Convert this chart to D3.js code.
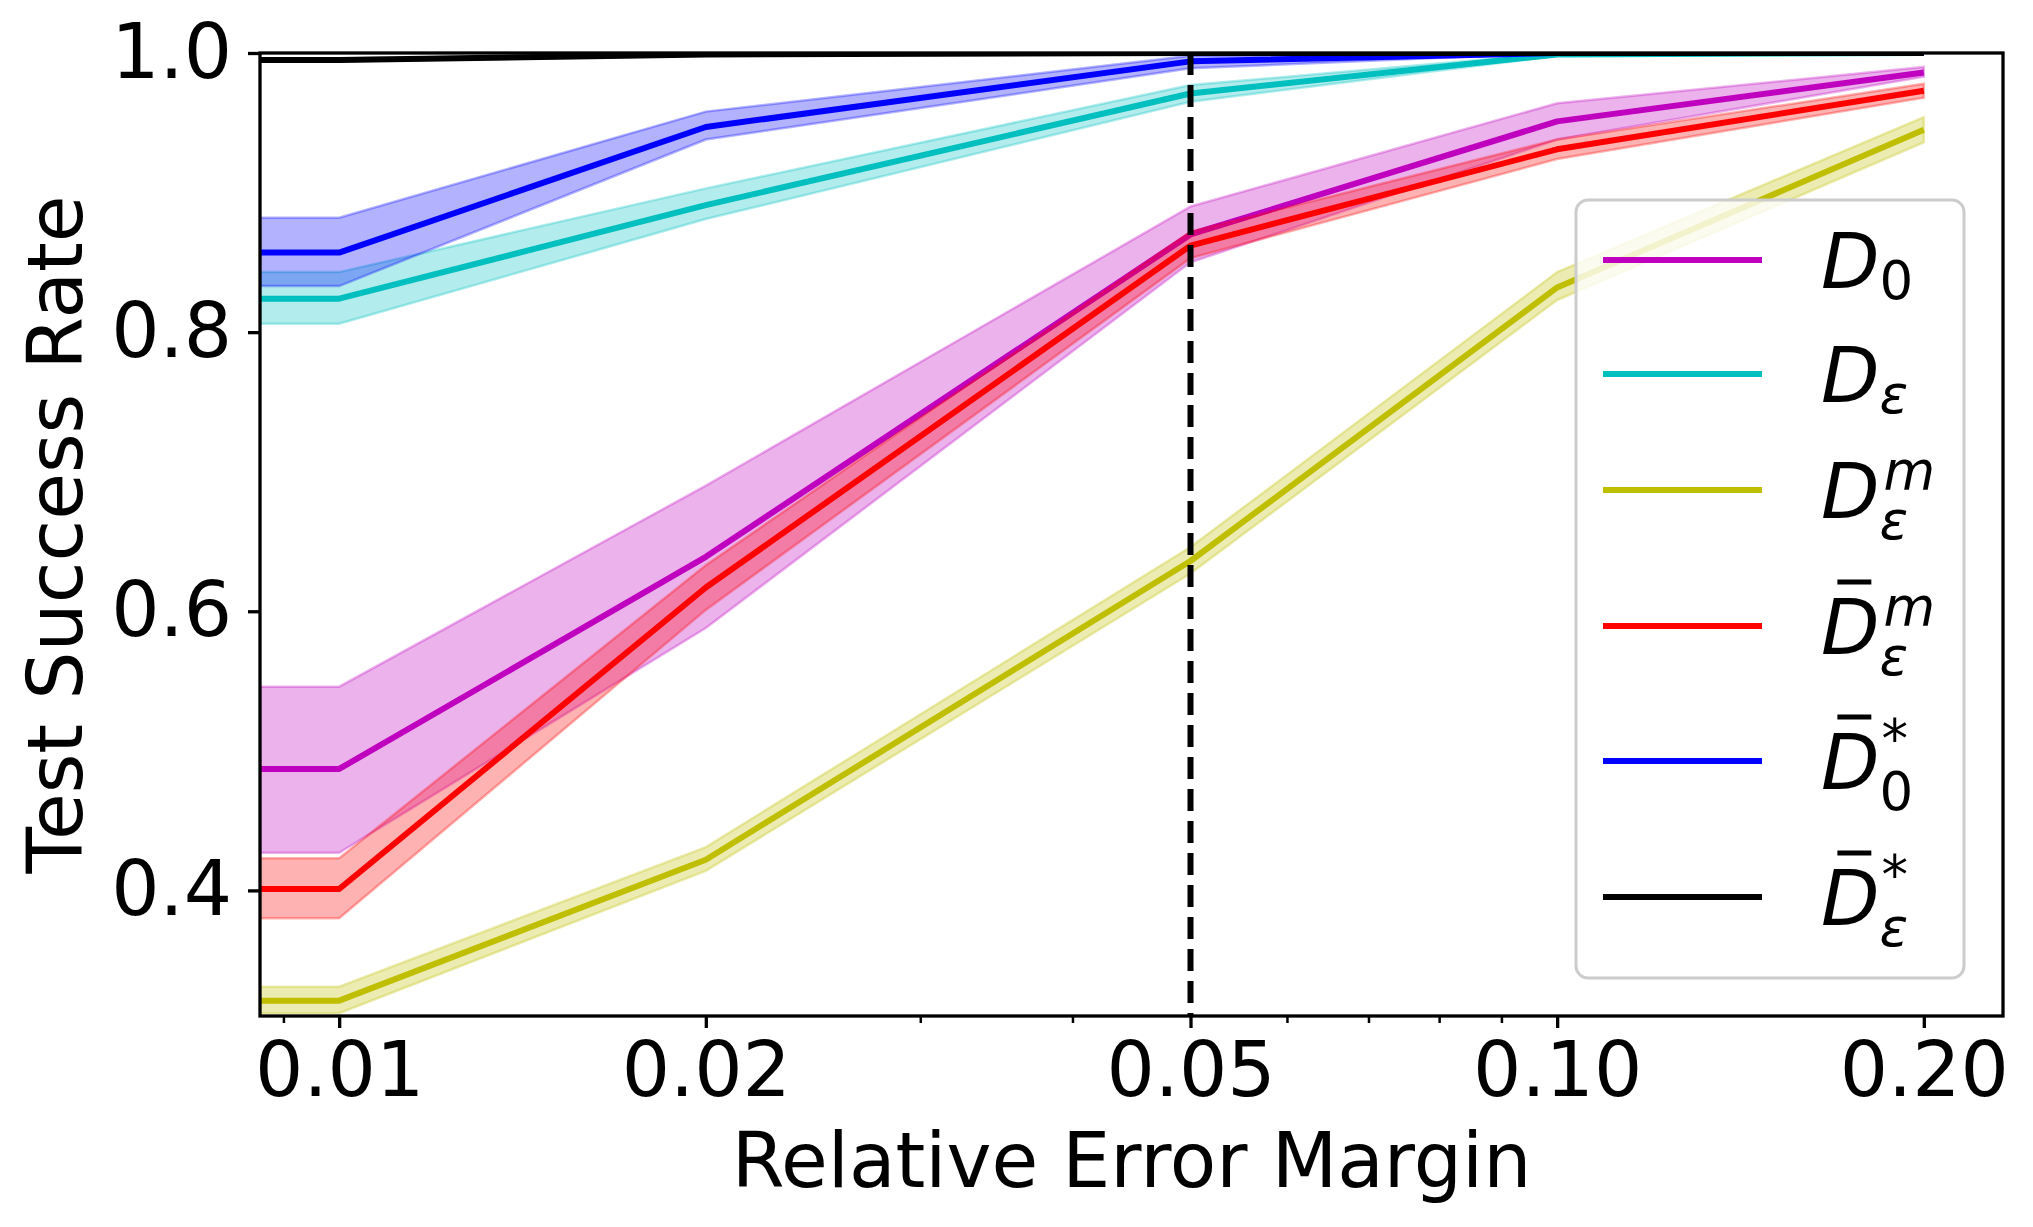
<!DOCTYPE html>
<html>
<head>
<meta charset="utf-8">
<script src="https://cdn.jsdelivr.net/npm/d3@7"></script>
<style>
body{margin:0;background:#fff;}
text{font-family:"DejaVu Sans",sans-serif;}
</style>
</head>
<body>
<svg id="chart" width="2033" height="1227"></svg>
<script>
const margins=[0.01,0.02,0.05,0.1,0.2];
const xTickLabels=["0.01","0.02","0.05","0.10","0.20"];
const xMinorTicks=[0.009,0.03,0.04,0.06,0.07,0.08,0.09];
const yTicks=[0.4,0.6,0.8,1.0];

const d0Mean=[0.487,0.639,0.870,0.951,0.986];
const d0Lo=[0.427,0.588,0.850,0.938,0.983];
const d0Hi=[0.546,0.690,0.890,0.964,0.990];

const deMean=[0.824,0.891,0.971,0.999,1.0];
const deLo=[0.806,0.881,0.965,0.998,1.0];
const deHi=[0.843,0.903,0.977,1.0,1.0];

const demMean=[0.321,0.422,0.636,0.832,0.945];
const demLo=[0.312,0.414,0.627,0.823,0.936];
const demHi=[0.331,0.431,0.646,0.843,0.954];

const dbemMean=[0.401,0.617,0.862,0.931,0.973];
const dbemLo=[0.380,0.601,0.853,0.924,0.968];
const dbemHi=[0.423,0.633,0.872,0.938,0.978];

const db0sMean=[0.857,0.947,0.994,1.0,1.0];
const db0sLo=[0.833,0.938,0.989,1.0,1.0];
const db0sHi=[0.882,0.958,0.998,1.0,1.0];

const dbesMean=[0.995,0.999,1.0,1.0,1.0];
const dbesLo=[0.994,0.998,1.0,1.0,1.0];
const dbesHi=[0.996,1.0,1.0,1.0,1.0];

// label parts: bar over D, subscript, superscript
const series=[
  {mean:d0Mean,lo:d0Lo,hi:d0Hi,color:"#bf00bf",bar:false,sub:"0",sup:null},
  {mean:deMean,lo:deLo,hi:deHi,color:"#00bfbf",bar:false,sub:"ε",sup:null},
  {mean:demMean,lo:demLo,hi:demHi,color:"#bfbf00",bar:false,sub:"ε",sup:"m"},
  {mean:dbemMean,lo:dbemLo,hi:dbemHi,color:"#ff0000",bar:true,sub:"ε",sup:"m"},
  {mean:db0sMean,lo:db0sLo,hi:db0sHi,color:"#0000ff",bar:true,sub:"0",sup:"*"},
  {mean:dbesMean,lo:dbesLo,hi:dbesHi,color:"#000000",bar:true,sub:"ε",sup:"*"}
];
const dashedAt=0.05;

const svg=d3.select("#chart");
const L=260,R=2003,T=53,B=1016;

const x=d3.scaleLog().domain([0.00861,0.2323]).range([L,R]);
const y=d3.scaleLinear().domain([0.31,1.0]).range([B,T]);

svg.append("defs").append("clipPath").attr("id","plot")
  .append("rect").attr("x",L).attr("y",T).attr("width",R-L).attr("height",B-T);

const plot=svg.append("g").attr("clip-path","url(#plot)");

function pts(s){
  // flat run in from the left edge, as in the original
  const p=margins.map((m,i)=>({x:m,m:s.mean[i],lo:s.lo[i],hi:s.hi[i]}));
  p.unshift({x:x.domain()[0],m:s.mean[0],lo:s.lo[0],hi:s.hi[0]});
  return p;
}

series.forEach(s=>{
  const p=pts(s);
  plot.append("path")
    .attr("d",d3.area().x(d=>x(d.x)).y0(d=>y(d.lo)).y1(d=>y(d.hi))(p))
    .attr("fill",s.color).attr("fill-opacity",0.3)
    .attr("stroke",s.color).attr("stroke-opacity",0.3).attr("stroke-width",2.5);
  plot.append("path")
    .attr("d",d3.line().x(d=>x(d.x)).y(d=>y(d.m))(p))
    .attr("fill","none").attr("stroke",s.color).attr("stroke-width",6)
    .attr("stroke-linejoin","round");
});

plot.append("line")
  .attr("x1",x(dashedAt)).attr("x2",x(dashedAt))
  .attr("y1",T).attr("y2",B)
  .attr("stroke","#000").attr("stroke-width",6)
  .attr("stroke-dasharray","22,10");

// spines
svg.append("rect").attr("x",L).attr("y",T).attr("width",R-L).attr("height",B-T)
  .attr("fill","none").attr("stroke","#000").attr("stroke-width",3.3);

// x axis
const xAxis=d3.axisBottom(x).tickValues(margins)
  .tickFormat((d,i)=>xTickLabels[i]).tickSize(12).tickPadding(14);
const gx=svg.append("g").attr("transform",`translate(0,${B})`).call(xAxis);
gx.select(".domain").remove();
gx.selectAll(".tick line").attr("stroke-width",3.3);
gx.selectAll(".tick text").attr("font-size",76).attr("font-family","DejaVu Sans").attr("fill","#000");

const xMinor=d3.axisBottom(x).tickValues(xMinorTicks).tickFormat("").tickSize(7);
const gxm=svg.append("g").attr("transform",`translate(0,${B})`).call(xMinor);
gxm.select(".domain").remove();
gxm.selectAll(".tick line").attr("stroke-width",2.5);

// y axis
const yAxis=d3.axisLeft(y).tickValues(yTicks).tickFormat(d3.format(".1f"))
  .tickSize(12).tickPadding(16);
const gy=svg.append("g").attr("transform",`translate(${L},0)`).call(yAxis);
gy.select(".domain").remove();
gy.selectAll(".tick line").attr("stroke-width",3.3);
gy.selectAll(".tick text").attr("font-size",76).attr("font-family","DejaVu Sans").attr("fill","#000");

svg.append("text")
  .attr("x",(L+R)/2).attr("y",1187)
  .attr("text-anchor","middle").attr("font-size",76)
  .text("Relative Error Margin");

svg.append("text")
  .attr("transform",`translate(82,${(T+B)/2}) rotate(-90)`)
  .attr("text-anchor","middle").attr("font-size",76)
  .text("Test Success Rate");

// legend
const lg=svg.append("g");
lg.append("rect").attr("x",1576).attr("y",200).attr("width",388).attr("height",778)
  .attr("rx",12).attr("fill","#fff").attr("fill-opacity",0.8)
  .attr("stroke","#cccccc").attr("stroke-width",3);

const rowY=[260,374,490,626,761,897];
series.forEach((s,i)=>{
  const ry=rowY[i];
  lg.append("line").attr("x1",1603).attr("x2",1762).attr("y1",ry).attr("y2",ry)
    .attr("stroke",s.color).attr("stroke-width",6);
  const base=ry+28;
  const dx=1821;
  const D=lg.append("text").attr("x",dx).attr("y",base)
    .attr("font-size",76).attr("font-style","italic").text("D");
  const w=D.node().getComputedTextLength();
  if(s.bar){
    lg.append("line").attr("x1",dx+w*0.28).attr("x2",dx+w*0.86)
      .attr("y1",base-72).attr("y2",base-72)
      .attr("stroke","#000").attr("stroke-width",5);
  }
  const italicSub=s.sub!=="0";
  const subDy=s.sup?21:11;
  lg.append("text").attr("x",dx+w).attr("y",base+subDy)
    .attr("font-size",53).attr("font-style",italicSub?"italic":"normal").text(s.sub);
  if(s.sup){
    lg.append("text").attr("x",dx+w+(s.sup==="*"?2:4)).attr("y",base-(s.sup==="*"?32:29))
      .attr("font-size",53).attr("font-style",s.sup==="m"?"italic":"normal").text(s.sup);
  }
});
</script>
</body>
</html>
